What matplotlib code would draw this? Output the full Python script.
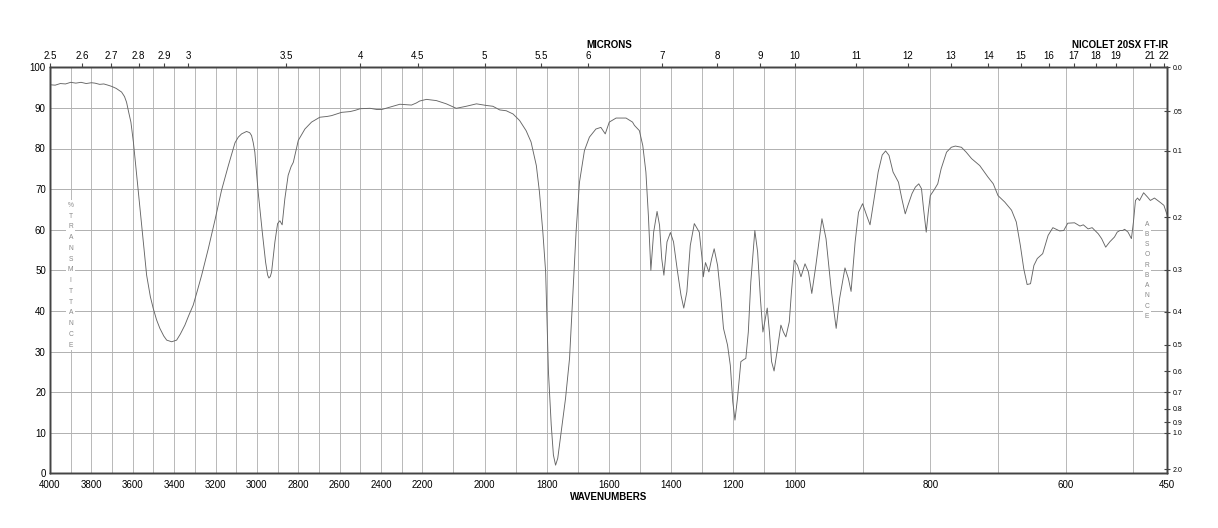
import numpy as np
import matplotlib
matplotlib.use("Agg")
import matplotlib.pyplot as plt

plt.rcParams['font.family'] = ['Liberation Sans', 'DejaVu Sans']

# spectrum (cm-1, %T)
wavenumber = [
    4000, 3975, 3950, 3925, 3900, 3875, 3850, 3825, 3800, 3783, 3760, 3740, 3720, 3702,
    3680, 3654, 3640, 3630, 3620, 3609, 3597, 3581, 3557, 3533, 3515, 3501, 3485, 3469,
    3450, 3436, 3412, 3400, 3388, 3370, 3348, 3330, 3308, 3290, 3267, 3235, 3203, 3171,
    3138, 3106, 3090, 3074, 3050, 3035, 3026, 3018, 3010, 2994, 2974, 2958, 2948, 2942,
    2935, 2929, 2913, 2900, 2889, 2878, 2865, 2849, 2835, 2824, 2800, 2768, 2736, 2696,
    2660, 2639, 2610, 2591, 2570, 2549, 2525, 2501, 2453, 2420, 2397, 2357, 2309, 2253,
    2230, 2213, 2187, 2155, 2123, 2091, 2059, 2026, 1994, 1973, 1951, 1930, 1908, 1887,
    1866, 1850, 1833, 1823, 1812, 1803, 1799, 1794, 1785, 1778, 1771, 1764, 1753, 1739,
    1726, 1716, 1705, 1694, 1678, 1662, 1641, 1625, 1611, 1598, 1576, 1544, 1523, 1517,
    1501, 1490, 1480, 1472, 1464, 1455, 1444, 1436, 1429, 1422, 1412, 1401, 1391, 1378,
    1367, 1358, 1348, 1337, 1324, 1308, 1299, 1295, 1288, 1277, 1268, 1260, 1249, 1238,
    1230, 1217, 1208, 1200, 1193, 1185, 1174, 1165, 1158, 1150, 1142, 1129, 1120, 1111,
    1103, 1095, 1089, 1082, 1075, 1067, 1056, 1045, 1037, 1029, 1018, 1011, 1002, 996,
    991, 985, 980, 975, 969, 960, 954, 946, 939, 934, 926, 921, 917, 911,
    906, 900, 894, 889, 883, 877, 871, 866, 861, 855, 847, 842, 837, 833,
    827, 822, 817, 813, 810, 806, 803, 800, 794, 789, 784, 776, 769, 763,
    754, 747, 739, 727, 715, 707, 700, 690, 680, 673, 667, 662, 657, 652,
    647, 642, 634, 626, 619, 609, 603, 597, 587, 579, 574, 567, 561, 552,
    547, 541, 535, 528, 524, 520, 516, 513, 508, 503, 500, 497, 494, 491,
    485, 479, 475, 469, 461, 455, 450,
]
transmittance = [
    95.7, 95.6, 96.0, 95.9, 96.3, 96.1, 96.3, 96.0, 96.2, 96.1, 95.8, 95.9, 95.6, 95.3,
    94.8, 93.9, 92.8, 91.4, 89.0, 86.5, 81.6, 73.4, 61.1, 48.8, 43.5, 40.6, 37.8, 35.7,
    33.8, 32.8, 32.4, 32.6, 32.8, 34.3, 36.5, 38.8, 41.4, 44.6, 48.8, 55.3, 62.3, 69.7,
    75.8, 81.4, 82.8, 83.6, 84.2, 83.9, 83.2, 81.5, 79.1, 69.3, 59.4, 52.0, 48.8, 48.1,
    48.5, 49.6, 57.0, 61.5, 62.2, 61.2, 67.6, 73.4, 75.5, 76.6, 82.0, 84.8, 86.5, 87.7,
    87.9, 88.1, 88.6, 88.9, 89.0, 89.1, 89.4, 89.8, 89.9, 89.6, 89.6, 90.2, 90.9, 90.7,
    91.2, 91.7, 92.1, 91.8, 91.0, 89.9, 90.4, 91.0, 90.6, 90.4, 89.5, 89.3, 88.5, 86.9,
    84.4, 81.6, 75.8, 69.3, 59.4, 49.6, 38.9, 25.0, 11.9, 4.5, 2.0, 3.7, 10.2, 18.4,
    28.3, 43.0, 59.4, 71.7, 79.5, 82.8, 84.8, 85.2, 83.6, 86.5, 87.5, 87.5, 86.5, 85.7,
    84.4, 80.7, 74.2, 63.5, 50.0, 59.4, 64.5, 61.1, 52.9, 48.8, 57.0, 59.3, 57.0, 49.6,
    43.9, 40.7, 44.7, 56.1, 61.5, 59.4, 52.9, 48.4, 51.9, 49.6, 52.9, 55.3, 51.2, 43.0,
    35.7, 31.6, 26.6, 17.6, 13.1, 18.4, 27.5, 28.0, 28.3, 34.8, 47.1, 59.8, 54.5, 43.0,
    34.8, 38.1, 40.7, 34.8, 27.5, 25.2, 30.7, 36.5, 34.8, 33.6, 37.3, 44.7, 52.5, 51.2,
    48.4, 51.6, 49.6, 44.3, 51.2, 62.7, 57.8, 44.7, 35.7, 43.0, 50.6, 48.0, 44.8, 57.0,
    64.3, 66.4, 63.5, 61.2, 67.6, 74.2, 78.4, 79.4, 78.3, 74.2, 71.7, 67.6, 63.9, 66.0,
    68.9, 70.5, 71.3, 70.1, 65.2, 59.4, 64.3, 68.4, 69.9, 71.3, 75.0, 79.1, 80.3, 80.6,
    80.3, 79.1, 77.5, 75.8, 73.0, 71.3, 68.4, 66.8, 64.8, 61.9, 56.1, 50.4, 46.5, 46.7,
    51.2, 52.9, 54.1, 58.6, 60.5, 59.7, 59.8, 61.6, 61.7, 60.9, 61.2, 60.2, 60.5, 59.0,
    57.8, 55.7, 57.0, 58.2, 59.4, 59.8, 59.8, 60.1, 59.4, 57.8, 61.9, 67.2, 67.8, 67.2,
    69.1, 68.0, 67.2, 67.8, 66.8, 66.0, 63.5,
]

wn_ticks = [4000, 3800, 3600, 3400, 3200, 3000, 2800, 2600, 2400, 2200, 2000,
            1800, 1600, 1400, 1200, 1000, 800, 600, 450]
micron_ticks = [2.5, 2.6, 2.7, 2.8, 2.9, 3, 3.5, 4, 4.5, 5, 5.5, 6, 7, 8, 9, 10,
                11, 12, 13, 14, 15, 16, 17, 18, 19, 21, 22]
micron_labels = ["2.5", "2.6", "2.7", "2.8", "2.9", "3", "3.5", "4", "4.5", "5", "5.5",
                 "6", "7", "8", "9", "10", "11", "12", "13", "14", "15", "16", "17",
                 "18", "19", "21", "22"]
abs_ticks = [0.0, 0.05, 0.1, 0.2, 0.3, 0.4, 0.5, 0.6, 0.7, 0.8, 0.9, 1.0, 2.0]
abs_labels = ["0.0", ".05", "0.1", "0.2", "0.3", "0.4", "0.5", "0.6", "0.7", "0.8",
              "0.9", "1.0", "2.0"]

# chart paper: three equal-width pieces 4000-2200, 2200-1000, 1000-450
BREAK_WN = [450, 1000, 2200, 4000]
BREAK_POS = [0.0, 1.0, 2.0, 3.0]


def forward(w):
    return np.interp(w, BREAK_WN, BREAK_POS)


def inverse(p):
    return np.interp(p, BREAK_POS, BREAK_WN)


def style_spines(a):
    for s in a.spines.values():
        s.set_color('#444444')
        s.set_linewidth(1.0)


W, H = 1218, 528
fig = plt.figure(figsize=(W / 100, H / 100), dpi=100)
ax = fig.add_axes([50 / W, 1 - 473.3 / H, 1117.3 / W, 406 / H])
ax.set_xscale('function', functions=(forward, inverse))
ax.set_xlim(4000, 450)
ax.set_ylim(0, 100)

ax.set_xticks(wn_ticks)
ax.set_xticklabels([str(t) for t in wn_ticks])
ax.set_xticks(list(range(500, 4000, 100)), minor=True)
ax.set_yticks(range(0, 101, 10))
ax.tick_params(axis='x', which='both', length=0, pad=5, labelsize=7)
ax.tick_params(axis='y', length=0, pad=3, labelsize=7)
ax.grid(True, which='both', axis='x', color='#b8b8b8', lw=0.7)
ax.grid(True, axis='y', color='#b0b0b0', lw=0.7)
ax.set_axisbelow(True)
style_spines(ax)

ax.plot(wavenumber, transmittance, color='#666666', lw=0.65, zorder=3)

box = dict(facecolor='white', edgecolor='none', pad=1.0)
ax.text(3900, 48.8, "\n".join("%TRANSMITTANCE"), ha='center', va='center',
        fontsize=4.8, color='#888888', linespacing=1.75, bbox=box, zorder=2.5)
ax.text(480, 50.0, "\n".join("ABSORBANCE"), ha='center', va='center',
        fontsize=4.8, color='#888888', linespacing=1.65, bbox=box, zorder=2.5)

top = ax.twiny()
top.set_xscale('function', functions=(forward, inverse))
top.set_xlim(4000, 450)
top.set_xticks([10000.0 / m for m in micron_ticks])
top.set_xticklabels(micron_labels)
top.tick_params(axis='x', direction='out', length=3, pad=1.5, labelsize=7,
                color='#444444')
style_spines(top)

right = ax.twinx()
right.set_ylim(0, 100)
right.set_yticks([100 * 10 ** (-a) for a in abs_ticks])
right.set_yticklabels(abs_labels)
right.tick_params(axis='y', direction='inout', length=4, pad=2, labelsize=5,
                  color='#444444')
style_spines(right)

fig.text(609 / W, 1 - 45 / H, "MICRONS", ha='center', va='center',
         fontsize=7, fontweight='bold')
fig.text(1168 / W, 1 - 45 / H, "NICOLET 20SX FT-IR", ha='right', va='center',
         fontsize=7, fontweight='bold')
fig.text(609 / W, 1 - 497 / H, "WAVENUMBERS", ha='center', va='center',
         fontsize=7, fontweight='bold')

fig.savefig("out.png", dpi=100)
